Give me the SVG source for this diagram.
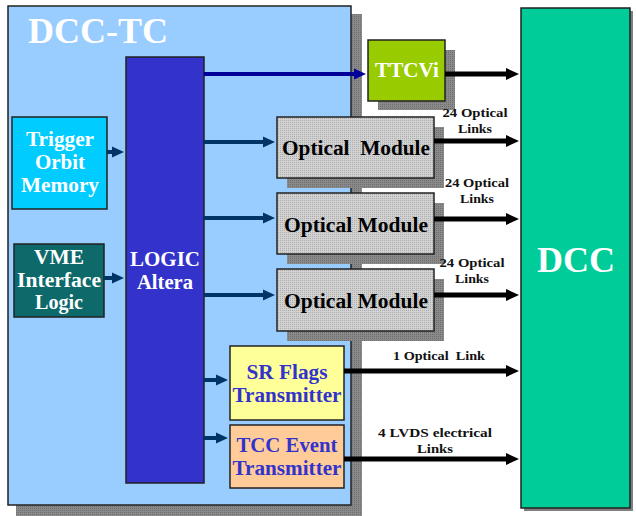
<svg xmlns="http://www.w3.org/2000/svg" width="636" height="516" viewBox="0 0 636 516">
<defs>
<pattern id="dots" width="2" height="2" patternUnits="userSpaceOnUse">
<rect width="2" height="2" fill="#D2D2D2"/><rect width="1" height="1" fill="#ACACAC"/>
</pattern>
<pattern id="sh" width="2" height="2" patternUnits="userSpaceOnUse">
<rect width="2" height="2" fill="#8A8A8A"/><rect width="1" height="1" fill="#6E6E6E"/>
</pattern>
<marker id="ab" markerUnits="userSpaceOnUse" markerWidth="14" markerHeight="14" refX="2" refY="7" orient="auto">
<path d="M0,1 L13,7 L0,13 z" fill="#000"/>
</marker>
<marker id="au" markerUnits="userSpaceOnUse" markerWidth="14" markerHeight="14" refX="2" refY="7" orient="auto">
<path d="M0,1.5 L12,7 L0,12.5 z" fill="#003366"/>
</marker>
<marker id="an" markerUnits="userSpaceOnUse" markerWidth="14" markerHeight="14" refX="2" refY="7" orient="auto">
<path d="M0,1.5 L12,7 L0,12.5 z" fill="#000099"/>
</marker>
</defs>
<style>
text{font-family:"Times New Roman","Liberation Serif",Tinos,"DejaVu Serif",serif;font-weight:bold;text-anchor:middle}
.w{fill:#fff}
.k{fill:#000}
.b{fill:#3333CC}
.lab{font-size:13.5px;fill:#111}
.box{stroke:#222;stroke-width:1.5}
.shadow{fill:url(#sh)}
.bk{stroke:#000;stroke-width:5;fill:none}
.bu{stroke:#003366;stroke-width:4;fill:none}
.bn{stroke:#000099;stroke-width:4;fill:none}
</style>
<rect width="636" height="516" fill="#fff"/>

<g id="dcc-tc">
<rect class="shadow" x="16" y="14" width="346" height="502"/>
<rect class="box" x="8" y="6" width="343" height="499" fill="#99CCFF"/>
<text class="w" x="98" y="43" font-size="36" textLength="140" lengthAdjust="spacingAndGlyphs">DCC-TC</text>
</g>

<g id="dcc">
<rect x="524" y="11" width="109" height="500" fill="#808080"/>
<rect class="box" x="521" y="8" width="109" height="500" fill="#00CC99"/>
<text class="w" x="576" y="272" font-size="36" textLength="78" lengthAdjust="spacingAndGlyphs">DCC</text>
</g>

<g id="logic">
<rect class="box" x="126" y="57" width="78" height="426" fill="#3333CC"/>
<text class="w" x="165" y="266" font-size="21" textLength="70" lengthAdjust="spacingAndGlyphs">LOGIC</text>
<text class="w" x="165" y="289" font-size="21" textLength="56" lengthAdjust="spacingAndGlyphs">Altera</text>
</g>

<g id="trigger">
<rect class="box" x="12" y="117" width="95" height="92" fill="#00CCFF"/>
<text class="w" x="60" y="146" font-size="20" textLength="68" lengthAdjust="spacingAndGlyphs">Trigger</text>
<text class="w" x="60" y="169" font-size="20" textLength="50" lengthAdjust="spacingAndGlyphs">Orbit</text>
<text class="w" x="60" y="192" font-size="20" textLength="78" lengthAdjust="spacingAndGlyphs">Memory</text>
</g>

<g id="vme">
<rect class="box" x="14" y="244" width="90" height="73" fill="#0E6A6A"/>
<text class="w" x="59" y="264" font-size="20" textLength="50" lengthAdjust="spacingAndGlyphs">VME</text>
<text class="w" x="59" y="287" font-size="20" textLength="84" lengthAdjust="spacingAndGlyphs">Interface</text>
<text class="w" x="59" y="309" font-size="20" textLength="48" lengthAdjust="spacingAndGlyphs">Logic</text>
</g>

<g id="ttcvi">
<rect class="shadow" x="378" y="50" width="77" height="60"/>
<rect class="box" x="368" y="40" width="77" height="61" fill="#99CC00"/>
<text class="w" x="407" y="77" font-size="21" textLength="64" lengthAdjust="spacingAndGlyphs">TTCVi</text>
</g>

<g id="om1">
<rect class="shadow" x="287" y="127" width="157" height="61"/>
<rect class="box" x="277" y="117" width="157" height="61" fill="url(#dots)"/>
<text class="k" x="356" y="155" font-size="20" style="white-space:pre" textLength="148" lengthAdjust="spacingAndGlyphs">Optical  Module</text>
</g>

<g id="om2">
<rect class="shadow" x="287" y="203" width="157" height="61"/>
<rect class="box" x="277" y="193" width="157" height="61" fill="url(#dots)"/>
<text class="k" x="356" y="232" font-size="20" textLength="144" lengthAdjust="spacingAndGlyphs">Optical Module</text>
</g>

<g id="om3">
<rect class="shadow" x="287" y="279" width="157" height="62"/>
<rect class="box" x="277" y="269" width="157" height="62" fill="url(#dots)"/>
<text class="k" x="356" y="308" font-size="20" textLength="144" lengthAdjust="spacingAndGlyphs">Optical Module</text>
</g>

<g id="srflags">
<rect class="box" x="230" y="346" width="114" height="74" fill="#FFFF99"/>
<text class="b" x="287" y="379" font-size="21" textLength="81" lengthAdjust="spacingAndGlyphs">SR Flags</text>
<text class="b" x="287" y="402" font-size="21" textLength="109" lengthAdjust="spacingAndGlyphs">Transmitter</text>
</g>

<g id="tcc">
<rect class="box" x="230" y="425" width="114" height="63" fill="#FFCC99"/>
<text class="b" x="287" y="452" font-size="21" textLength="101" lengthAdjust="spacingAndGlyphs">TCC Event</text>
<text class="b" x="287" y="475" font-size="21" textLength="109" lengthAdjust="spacingAndGlyphs">Transmitter</text>
</g>

<g id="connectors">
<line class="bu" x1="107" y1="152" x2="114" y2="152" marker-end="url(#au)"/>
<line class="bu" x1="104" y1="278" x2="114" y2="278" marker-end="url(#au)"/>
<line class="bn" x1="204" y1="74" x2="356" y2="74" marker-end="url(#an)"/>
<line class="bu" x1="204" y1="142" x2="265" y2="142" marker-end="url(#au)"/>
<line class="bu" x1="204" y1="218" x2="265" y2="218" marker-end="url(#au)"/>
<line class="bu" x1="204" y1="295" x2="265" y2="295" marker-end="url(#au)"/>
<line class="bu" x1="204" y1="380" x2="218" y2="380" marker-end="url(#au)"/>
<line class="bu" x1="204" y1="438" x2="218" y2="438" marker-end="url(#au)"/>
<line class="bk" x1="445" y1="74" x2="508" y2="74" marker-end="url(#ab)"/>
<line class="bk" x1="434" y1="141" x2="508" y2="141" marker-end="url(#ab)"/>
<line class="bk" x1="434" y1="219" x2="508" y2="219" marker-end="url(#ab)"/>
<line class="bk" x1="434" y1="295" x2="508" y2="295" marker-end="url(#ab)"/>
<line class="bk" x1="344" y1="371" x2="508" y2="371" marker-end="url(#ab)"/>
<line class="bk" x1="344" y1="459" x2="508" y2="459" marker-end="url(#ab)"/>
<text class="lab" x="475" y="117" textLength="65" lengthAdjust="spacingAndGlyphs">24 Optical</text>
<text class="lab" x="475" y="133" textLength="34" lengthAdjust="spacingAndGlyphs">Links</text>
<text class="lab" x="477" y="187" textLength="64" lengthAdjust="spacingAndGlyphs">24 Optical</text>
<text class="lab" x="477" y="203" textLength="34" lengthAdjust="spacingAndGlyphs">Links</text>
<text class="lab" x="472" y="267" textLength="65" lengthAdjust="spacingAndGlyphs">24 Optical</text>
<text class="lab" x="472" y="283" textLength="34" lengthAdjust="spacingAndGlyphs">Links</text>
<text class="lab" x="439" y="360" style="white-space:pre" textLength="92" lengthAdjust="spacingAndGlyphs">1 Optical  Link</text>
<text class="lab" x="435" y="437" textLength="114" lengthAdjust="spacingAndGlyphs">4 LVDS electrical</text>
<text class="lab" x="435" y="453" textLength="36" lengthAdjust="spacingAndGlyphs">Links</text>
</g>
</svg>
